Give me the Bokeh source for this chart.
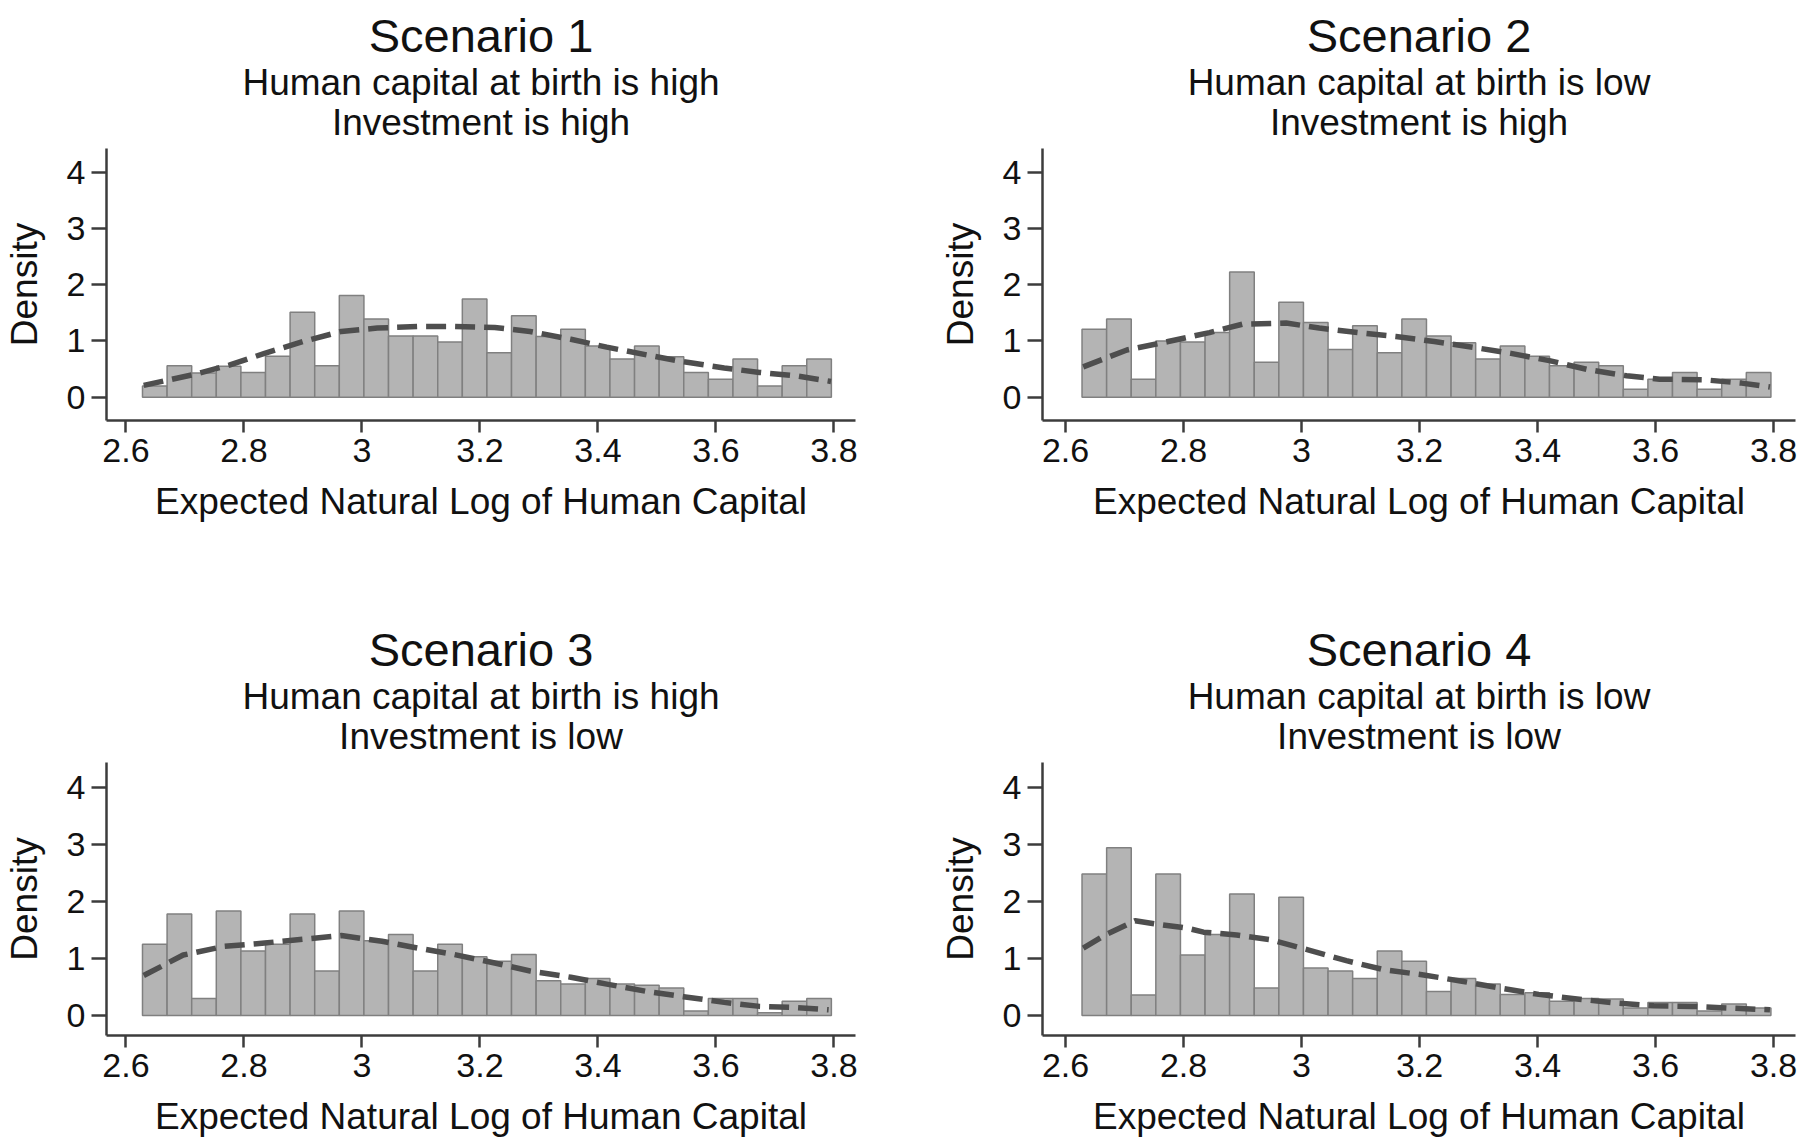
import numpy as np
from bokeh.plotting import figure
from bokeh.models import Range1d, FixedTicker, Title
from bokeh.layouts import column, row
from bokeh.embed import file_html
from bokeh.resources import INLINE

# ---------------- data ----------------
scenario_titles = ["Scenario 1", "Scenario 2", "Scenario 3", "Scenario 4"]
subtitle_birth = ["Human capital at birth is high", "Human capital at birth is low",
                  "Human capital at birth is high", "Human capital at birth is low"]
subtitle_invest = ["Investment is high", "Investment is high",
                   "Investment is low", "Investment is low"]
x_title = "Expected Natural Log of Human Capital"
y_title = "Density"

x_ticks = [2.6, 2.8, 3.0, 3.2, 3.4, 3.6, 3.8]
x_tick_labels = ["2.6", "2.8", "3", "3.2", "3.4", "3.6", "3.8"]
y_ticks = [0, 1, 2, 3, 4]
y_tick_labels = ["0", "1", "2", "3", "4"]

# histogram bins (28 bins)
bin_start = 2.628
bin_width = 0.0417
n_bins = 28

s1_hist = [0.20, 0.56, 0.43, 0.55, 0.44, 0.73, 1.51, 0.56, 1.81, 1.39, 1.09, 1.09, 0.98, 1.75,
           0.79, 1.45, 1.08, 1.21, 0.91, 0.68, 0.91, 0.72, 0.44, 0.32, 0.68, 0.20, 0.56, 0.68]
s2_hist = [1.21, 1.39, 0.32, 1.00, 0.98, 1.15, 2.23, 0.62, 1.69, 1.33, 0.85, 1.27, 0.79, 1.39,
           1.09, 0.97, 0.68, 0.91, 0.73, 0.56, 0.62, 0.56, 0.14, 0.32, 0.44, 0.14, 0.32, 0.44]
s3_hist = [1.25, 1.78, 0.30, 1.83, 1.13, 1.25, 1.78, 0.78, 1.83, 1.31, 1.42, 0.78, 1.25, 1.03,
           0.95, 1.07, 0.61, 0.55, 0.65, 0.55, 0.53, 0.48, 0.08, 0.30, 0.30, 0.05, 0.25, 0.30]
s4_hist = [2.48, 2.94, 0.36, 2.48, 1.06, 1.42, 2.13, 0.48, 2.07, 0.83, 0.78, 0.65, 1.13, 0.95,
           0.42, 0.65, 0.55, 0.37, 0.40, 0.25, 0.30, 0.29, 0.13, 0.23, 0.23, 0.08, 0.20, 0.13]

# kernel density curves
s1_kx = [2.630, 2.714, 2.775, 2.835, 2.900, 2.965, 3.026, 3.095, 3.155, 3.225, 3.285, 3.354,
         3.415, 3.484, 3.545, 3.614, 3.674, 3.735, 3.795]
s1_ky = [0.21, 0.40, 0.57, 0.78, 0.99, 1.17, 1.23, 1.26, 1.26, 1.24, 1.17, 1.03,
         0.89, 0.75, 0.63, 0.52, 0.44, 0.38, 0.28]
s2_kx = [2.630, 2.704, 2.774, 2.844, 2.900, 2.974, 3.030, 3.104, 3.160, 3.225, 3.290, 3.355,
         3.420, 3.486, 3.551, 3.607, 3.681, 3.746, 3.794]
s2_ky = [0.54, 0.84, 0.99, 1.15, 1.30, 1.32, 1.23, 1.14, 1.08, 0.99, 0.89, 0.78,
         0.65, 0.49, 0.38, 0.32, 0.31, 0.25, 0.18]
s3_kx = [2.630, 2.697, 2.766, 2.835, 2.904, 2.965, 3.034, 3.095, 3.155, 3.225, 3.285, 3.354,
         3.415, 3.484, 3.545, 3.614, 3.674, 3.735, 3.791]
s3_ky = [0.70, 1.06, 1.21, 1.27, 1.34, 1.40, 1.30, 1.18, 1.07, 0.92, 0.78, 0.67,
         0.55, 0.42, 0.33, 0.23, 0.16, 0.14, 0.10]
s4_kx = [2.630, 2.667, 2.718, 2.755, 2.806, 2.834, 2.890, 2.946, 3.011, 3.076, 3.141, 3.207,
         3.272, 3.337, 3.402, 3.467, 3.532, 3.597, 3.662, 3.727, 3.794]
s4_ky = [1.18, 1.41, 1.66, 1.60, 1.53, 1.46, 1.41, 1.33, 1.15, 0.96, 0.80, 0.71,
         0.60, 0.48, 0.37, 0.29, 0.22, 0.17, 0.16, 0.13, 0.10]

hists = [s1_hist, s2_hist, s3_hist, s4_hist]
kxs = [s1_kx, s2_kx, s3_kx, s4_kx]
kys = [s1_ky, s2_ky, s3_ky, s4_ky]

# ---------------- style / layout ----------------
FONT = "Liberation Sans"
TXT = "#111111"
AXC = "#3c3c3c"
BAR_FILL = "#b4b4b4"
BAR_LINE = "#808080"
KDE_COLOR = "#4e4e4e"

LEFT_W, RIGHT_W = 936, 864
TOP_H, BOT_H = 614, 526
B_TOP = 148
PX_PER_X = 590.0


def make_panel(k, width, height, b_left, b_right, x0, frame_h, y0, px_per_y):
    b_bottom = height - B_TOP - frame_h
    frame_w = width - b_left - b_right
    x1 = x0 + frame_w / PX_PER_X
    y1 = y0 + frame_h / px_per_y
    p = figure(width=width, height=height,
               x_range=Range1d(x0, x1), y_range=Range1d(y0, y1),
               output_backend="svg", toolbar_location=None, title=None,
               min_border_left=b_left, min_border_right=b_right,
               min_border_top=B_TOP, min_border_bottom=b_bottom)
    p.background_fill_color = "white"
    p.border_fill_color = "white"
    p.outline_line_color = None
    p.xgrid.visible = False
    p.ygrid.visible = False

    edges = bin_start + bin_width * np.arange(n_bins + 1)
    p.quad(left=edges[:-1], right=edges[1:], bottom=0, top=hists[k],
           fill_color=BAR_FILL, line_color=BAR_LINE, line_width=1.5)
    p.line(kxs[k], kys[k], line_color=KDE_COLOR, line_width=5.5,
           line_dash="20 9", line_join="round")

    for ax in (p.xaxis[0], p.yaxis[0]):
        ax.axis_line_color = AXC
        ax.axis_line_width = 2.5
        ax.major_tick_line_color = AXC
        ax.major_tick_line_width = 2.5
        ax.major_tick_in = 0
        ax.minor_tick_line_color = None
        ax.major_label_text_font = FONT
        ax.major_label_text_font_size = "34px"
        ax.major_label_text_color = TXT
        ax.axis_label_text_font = FONT
        ax.axis_label_text_font_size = "37px"
        ax.axis_label_text_font_style = "normal"
        ax.axis_label_text_color = TXT

    xa = p.xaxis[0]
    xa.ticker = FixedTicker(ticks=x_ticks)
    xa.major_label_overrides = dict(zip(x_ticks, x_tick_labels))
    xa.major_tick_out = 12
    xa.major_label_standoff = 6
    xa.axis_label = x_title
    xa.axis_label_standoff = 16

    ya = p.yaxis[0]
    ya.ticker = FixedTicker(ticks=y_ticks)
    ya.major_label_overrides = dict(zip(y_ticks, y_tick_labels))
    ya.major_tick_out = 15
    ya.major_label_standoff = 6
    ya.major_label_orientation = "horizontal"
    ya.axis_label = y_title
    ya.axis_label_standoff = 19

    tstyle = dict(align="center", text_font=FONT, text_font_style="normal", text_color=TXT)
    p.add_layout(Title(text=subtitle_invest[k], text_font_size="37px", standoff=11, **tstyle), "above")
    p.add_layout(Title(text=subtitle_birth[k], text_font_size="37px", standoff=-16.5, **tstyle), "above")
    p.add_layout(Title(text=scenario_titles[k], text_font_size="47px", standoff=11, **tstyle), "above")
    return p


p1 = make_panel(0, LEFT_W, TOP_H, 106, 81, 2.567, 272, -0.416, 56.15)
p2 = make_panel(1, RIGHT_W, TOP_H, 106, 5, 2.561, 272, -0.416, 56.15)
p3 = make_panel(2, LEFT_W, BOT_H, 106, 81, 2.567, 273, -0.35, 57.1)
p4 = make_panel(3, RIGHT_W, BOT_H, 106, 5, 2.561, 273, -0.35, 57.1)

layout = column(row(p1, p2), row(p3, p4))
open("out.html", "w").write(file_html(layout, INLINE))
